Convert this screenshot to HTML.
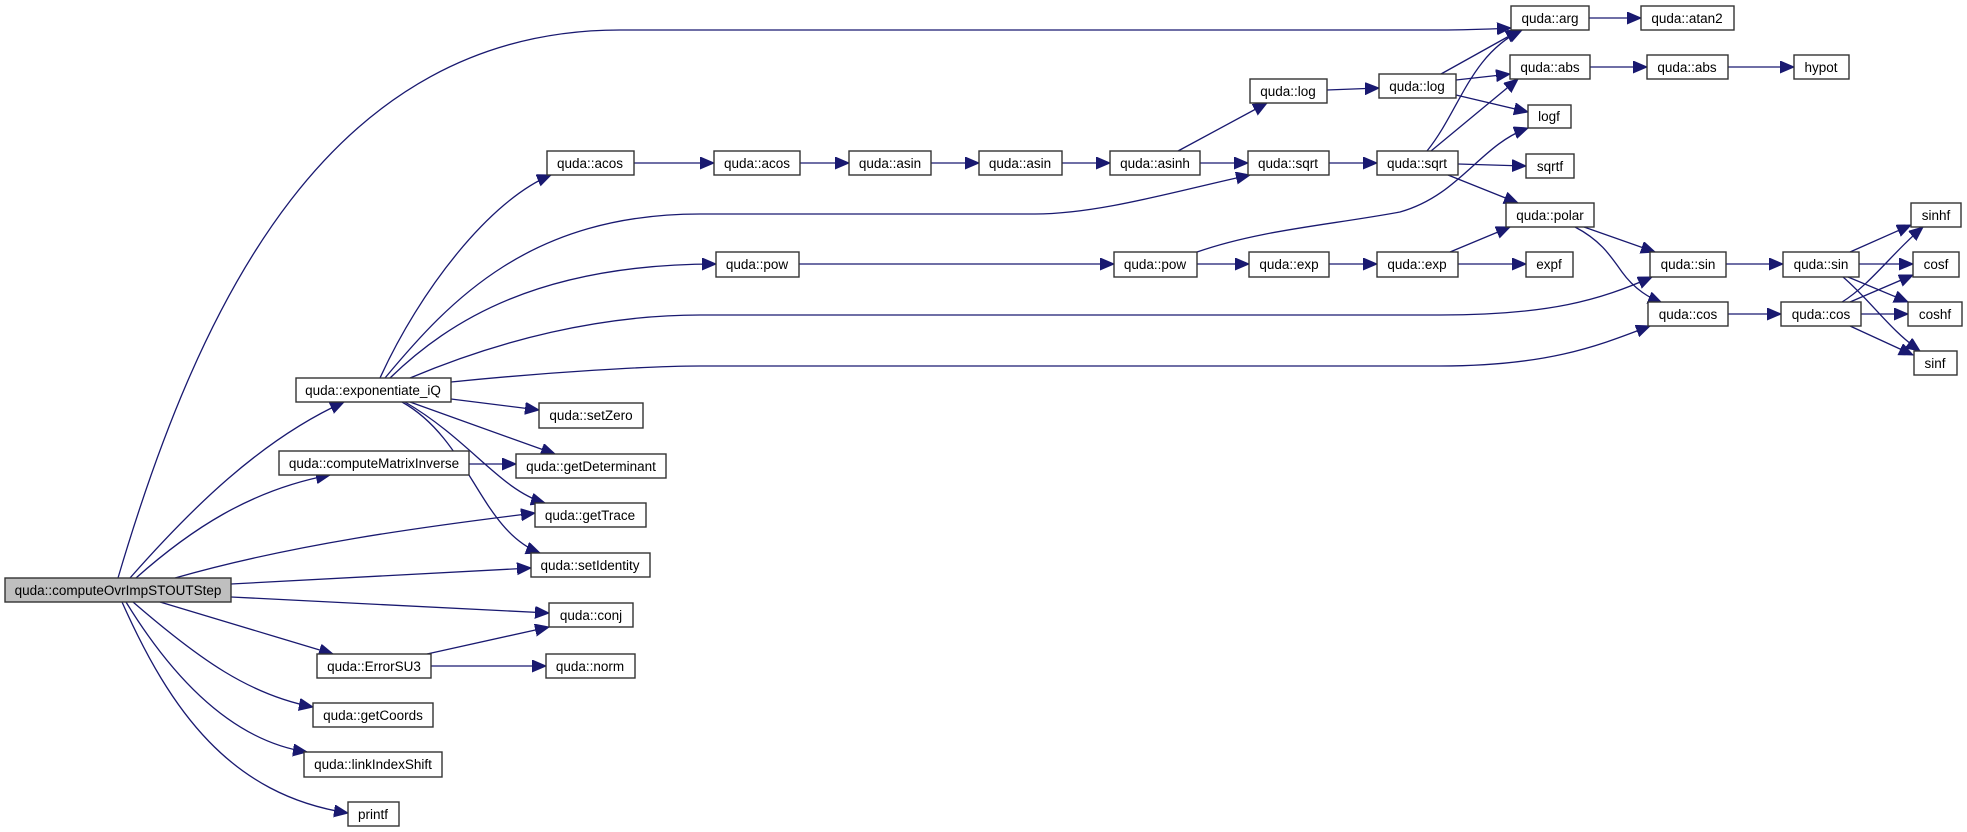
<!DOCTYPE html>
<html><head><meta charset="utf-8"><style>
html,body{margin:0;padding:0;background:#fff;}
svg{display:block;}
text{font-family:"Liberation Sans",Arial,sans-serif;font-size:13.5px;fill:#000;text-anchor:middle;}
.n{fill:#fff;stroke:#333;stroke-width:1.4;}
.r{fill:#bfbfbf;stroke:#333;stroke-width:1.4;}
.e{fill:none;stroke:#191970;stroke-width:1.3;marker-end:url(#a);}
</style></head><body>
<svg width="1967" height="832" viewBox="0 0 1967 832" xmlns="http://www.w3.org/2000/svg">
<defs><marker id="a" markerUnits="userSpaceOnUse" markerWidth="16" markerHeight="14" refX="14" refY="6" orient="auto"><path d="M0,0 L14,6 L0,12 z" fill="#191970" stroke="#191970"/></marker></defs>
<!-- edges -->
<path class="e" d="M118,578 C200,300 330,30 620,30 L1440,30 C1470,30 1490,29 1511,28"/>
<path class="e" d="M130,578 C190,510 260,440 344,402"/>
<path class="e" d="M136,578 C190,530 250,490 330,475"/>
<path class="e" d="M175,578 C290,545 420,527 535,513"/>
<path class="e" d="M231,584 L531,568"/>
<path class="e" d="M231,597 L549,613"/>
<path class="e" d="M160,602 L333,654"/>
<path class="e" d="M133,602 C200,660 250,695 313,707"/>
<path class="e" d="M126,602 C180,690 240,742 307,752"/>
<path class="e" d="M122,602 C170,710 230,795 348,813"/>
<path class="e" d="M380,378 C420,290 490,200 551,175"/>
<path class="e" d="M385,378 C450,300 530,214 700,214 L1035,214 C1100,214 1180,190 1250,175"/>
<path class="e" d="M390,378 C450,320 540,264 716,264"/>
<path class="e" d="M410,378 C500,340 600,315 700,315 L1440,315 C1550,315 1600,300 1652,277"/>
<path class="e" d="M451,382 C550,372 650,366 700,366 L1440,366 C1550,366 1600,345 1650,326"/>
<path class="e" d="M451,399 L539,410"/>
<path class="e" d="M410,402 L555,454"/>
<path class="e" d="M405,402 C470,440 500,490 545,503"/>
<path class="e" d="M402,402 C470,440 480,530 540,553"/>
<path class="e" d="M469,464 L516,464"/>
<path class="e" d="M427,654 L549,627"/>
<path class="e" d="M431,666 L546,666"/>
<path class="e" d="M634,163 L714,163"/>
<path class="e" d="M800,163 L849,163"/>
<path class="e" d="M931,163 L979,163"/>
<path class="e" d="M1062,163 L1110,163"/>
<path class="e" d="M1200,163 L1248,163"/>
<path class="e" d="M1178,151 L1267,103"/>
<path class="e" d="M1327,90 L1379,88"/>
<path class="e" d="M1329,163 L1377,163"/>
<path class="e" d="M799,264 L1114,264"/>
<path class="e" d="M1197,264 L1249,264"/>
<path class="e" d="M1329,264 L1377,264"/>
<path class="e" d="M1197,252 C1260,230 1330,225 1400,212 C1460,195 1480,145 1528,128"/>
<path class="e" d="M1441,74 L1520,30"/>
<path class="e" d="M1456,80 L1510,74"/>
<path class="e" d="M1456,95 L1528,112"/>
<path class="e" d="M1427,151 C1460,110 1470,55 1522,30"/>
<path class="e" d="M1431,151 L1518,79"/>
<path class="e" d="M1458,164 L1526,166"/>
<path class="e" d="M1448,175 L1518,203"/>
<path class="e" d="M1589,18 L1641,18"/>
<path class="e" d="M1590,67 L1647,67"/>
<path class="e" d="M1728,67 L1794,67"/>
<path class="e" d="M1450,252 L1510,227"/>
<path class="e" d="M1458,264 L1526,264"/>
<path class="e" d="M1584,227 L1655,252"/>
<path class="e" d="M1575,227 C1600,240 1610,255 1622,272 C1635,290 1650,298 1662,303"/>
<path class="e" d="M1726,264 L1783,264"/>
<path class="e" d="M1728,314 L1781,314"/>
<path class="e" d="M1850,252 L1911,225"/>
<path class="e" d="M1859,264 L1913,264"/>
<path class="e" d="M1848,277 L1908,302"/>
<path class="e" d="M1843,277 C1870,300 1890,330 1920,351"/>
<path class="e" d="M1842,302 C1870,285 1895,250 1923,227"/>
<path class="e" d="M1850,302 L1913,275"/>
<path class="e" d="M1861,314 L1908,314"/>
<path class="e" d="M1850,326 L1913,355"/>
<!-- nodes -->
<rect class="r" x="5" y="578" width="226" height="24"/><text x="118" y="595">quda::computeOvrImpSTOUTStep</text>
<rect class="n" x="296" y="378" width="155" height="24"/><text x="373" y="395">quda::exponentiate_iQ</text>
<rect class="n" x="279" y="451" width="190" height="24"/><text x="374" y="468">quda::computeMatrixInverse</text>
<rect class="n" x="539" y="403" width="104" height="25"/><text x="591" y="420">quda::setZero</text>
<rect class="n" x="516" y="454" width="150" height="24"/><text x="591" y="471">quda::getDeterminant</text>
<rect class="n" x="535" y="503" width="111" height="24"/><text x="590" y="520">quda::getTrace</text>
<rect class="n" x="531" y="553" width="119" height="24"/><text x="590" y="570">quda::setIdentity</text>
<rect class="n" x="549" y="603" width="84" height="24"/><text x="591" y="620">quda::conj</text>
<rect class="n" x="317" y="654" width="114" height="24"/><text x="374" y="671">quda::ErrorSU3</text>
<rect class="n" x="546" y="654" width="89" height="24"/><text x="590" y="671">quda::norm</text>
<rect class="n" x="313" y="703" width="120" height="24"/><text x="373" y="720">quda::getCoords</text>
<rect class="n" x="304" y="752" width="138" height="25"/><text x="373" y="769">quda::linkIndexShift</text>
<rect class="n" x="348" y="802" width="51" height="24"/><text x="373" y="819">printf</text>
<rect class="n" x="547" y="151" width="87" height="24"/><text x="590" y="168">quda::acos</text>
<rect class="n" x="714" y="151" width="86" height="24"/><text x="757" y="168">quda::acos</text>
<rect class="n" x="849" y="151" width="82" height="24"/><text x="890" y="168">quda::asin</text>
<rect class="n" x="979" y="151" width="83" height="24"/><text x="1020" y="168">quda::asin</text>
<rect class="n" x="1110" y="151" width="90" height="24"/><text x="1155" y="168">quda::asinh</text>
<rect class="n" x="1250" y="79" width="77" height="24"/><text x="1288" y="96">quda::log</text>
<rect class="n" x="1248" y="151" width="81" height="24"/><text x="1288" y="168">quda::sqrt</text>
<rect class="n" x="716" y="252" width="83" height="25"/><text x="757" y="269">quda::pow</text>
<rect class="n" x="1114" y="252" width="83" height="25"/><text x="1155" y="269">quda::pow</text>
<rect class="n" x="1249" y="252" width="80" height="25"/><text x="1289" y="269">quda::exp</text>
<rect class="n" x="1511" y="6" width="78" height="24"/><text x="1550" y="23">quda::arg</text>
<rect class="n" x="1641" y="6" width="93" height="24"/><text x="1687" y="23">quda::atan2</text>
<rect class="n" x="1379" y="74" width="77" height="24"/><text x="1417" y="91">quda::log</text>
<rect class="n" x="1510" y="55" width="80" height="24"/><text x="1550" y="72">quda::abs</text>
<rect class="n" x="1647" y="55" width="81" height="24"/><text x="1687" y="72">quda::abs</text>
<rect class="n" x="1794" y="55" width="55" height="24"/><text x="1821" y="72">hypot</text>
<rect class="n" x="1528" y="105" width="43" height="23"/><text x="1549" y="121">logf</text>
<rect class="n" x="1377" y="151" width="81" height="24"/><text x="1417" y="168">quda::sqrt</text>
<rect class="n" x="1526" y="154" width="48" height="24"/><text x="1550" y="171">sqrtf</text>
<rect class="n" x="1506" y="203" width="88" height="24"/><text x="1550" y="220">quda::polar</text>
<rect class="n" x="1377" y="252" width="81" height="25"/><text x="1417" y="269">quda::exp</text>
<rect class="n" x="1526" y="252" width="47" height="25"/><text x="1549" y="269">expf</text>
<rect class="n" x="1650" y="252" width="76" height="25"/><text x="1688" y="269">quda::sin</text>
<rect class="n" x="1648" y="302" width="80" height="24"/><text x="1688" y="319">quda::cos</text>
<rect class="n" x="1783" y="252" width="76" height="25"/><text x="1821" y="269">quda::sin</text>
<rect class="n" x="1781" y="302" width="80" height="24"/><text x="1821" y="319">quda::cos</text>
<rect class="n" x="1911" y="203" width="50" height="24"/><text x="1936" y="220">sinhf</text>
<rect class="n" x="1913" y="252" width="46" height="25"/><text x="1936" y="269">cosf</text>
<rect class="n" x="1908" y="302" width="54" height="24"/><text x="1935" y="319">coshf</text>
<rect class="n" x="1914" y="351" width="43" height="24"/><text x="1935" y="368">sinf</text>
</svg>
</body></html>
